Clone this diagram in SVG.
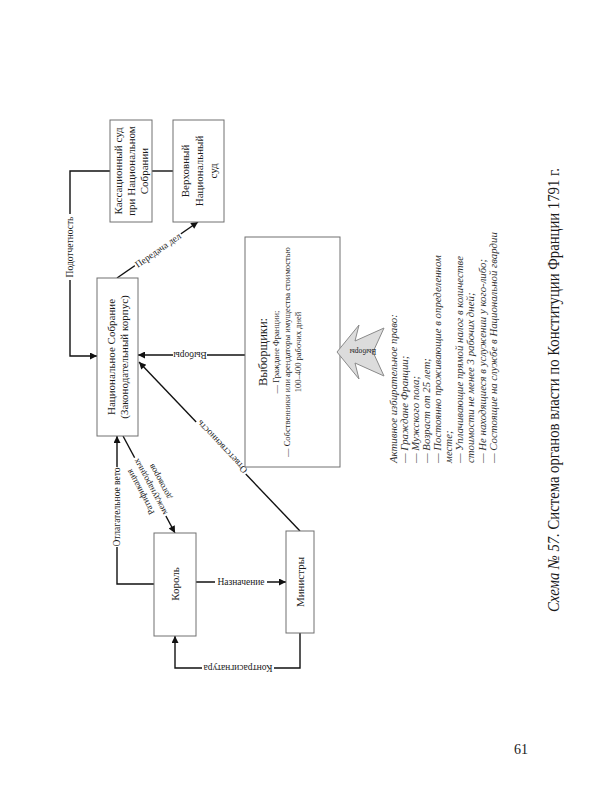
<svg xmlns="http://www.w3.org/2000/svg" width="600" height="800" viewBox="0 0 600 800">
<style>
.bg{fill:#fff}
.box{fill:#fff;stroke:#707070;stroke-width:1}
.t{font-family:"Liberation Serif","Times New Roman",serif;fill:#1a1a1a}
.c{fill:none;stroke:#111;stroke-width:1.4}
.lb{font-size:9.5px;text-anchor:middle}
.nt{font-size:11px;text-anchor:middle}
.it{font-size:10.8px;font-style:italic;fill:#333}
</style>
<defs>
<marker id="ah" viewBox="0 0 10 10" refX="10" refY="5" markerWidth="10" markerHeight="7" orient="auto" markerUnits="userSpaceOnUse">
<path d="M0,0 L10,5 L0,10 z" fill="#111"/>
</marker>
</defs>
<rect width="600" height="800" fill="#fff"/>

<g id="connectors">
<path class="c" d="M110,171 H70 V356 H97" marker-end="url(#ah)"/>
<path class="c" d="M152,171 H173"/>
<path class="c" d="M117,278 L198,222" marker-end="url(#ah)"/>
<path class="c" d="M245,355 H138" marker-end="url(#ah)"/>
<path class="c" d="M300,531 L139,362" marker-end="url(#ah)"/>
<path class="c" d="M123,436 L175,533" marker-end="url(#ah)"/>
<path class="c" d="M154,584 H117 V436" marker-end="url(#ah)"/>
<path class="c" d="M196,582 H286" marker-end="url(#ah)"/>
<path class="c" d="M300,633 V668 H175 V636" marker-end="url(#ah)"/>

<g transform="translate(70,247) rotate(-90)"><rect class="bg" x="-33" y="-5" width="66" height="10"/><text class="t lb" dy="0.35em">Подотчетность</text></g>
<g transform="translate(158,250) rotate(-34.7)"><rect class="bg" x="-28" y="-5" width="56" height="10"/><text class="t lb" dy="0.35em">Передача дел</text></g>
<g transform="translate(190,355) rotate(180)"><rect class="bg" x="-17" y="-5" width="34" height="10"/><text class="t lb" dy="0.35em">Выборы</text></g>
<g transform="translate(222,447) rotate(-133.4)"><rect class="bg" x="-36" y="-5" width="72" height="10"/><text class="t lb" dy="0.35em">Ответственность</text></g>
<g transform="translate(117,507) rotate(-90)"><rect class="bg" x="-40" y="-5" width="80" height="10"/><text class="t lb" dy="0.35em">Отлагательное вето</text></g>
<g transform="translate(241,582)"><rect class="bg" x="-26" y="-5" width="52" height="10"/><text class="t lb" dy="0.35em">Назначение</text></g>
<g transform="translate(238,668) rotate(180)"><rect class="bg" x="-36" y="-5" width="72" height="10"/><text class="t lb" dy="0.35em">Контрасигнатура</text></g>
<g transform="translate(150,487) rotate(-118)" font-size="9px"><rect class="bg" x="-33" y="-16" width="66" height="32"/>
<text class="t" text-anchor="middle" y="-11" dy="0.35em">Ратификация</text>
<text class="t" text-anchor="middle" y="0" dy="0.35em">международных</text>
<text class="t" text-anchor="middle" y="11" dy="0.35em">договоров</text></g>
</g>

<g id="kassation">
<rect class="box" x="110" y="120" width="42" height="102"/>
<g transform="translate(131,171) rotate(-90)">
<text class="t nt" y="-13" dy="0.35em">Кассационный суд</text>
<text class="t nt" y="0" dy="0.35em">при Национальном</text>
<text class="t nt" y="13" dy="0.35em">Собрании</text></g>
</g>

<g id="supreme">
<rect class="box" x="173" y="120" width="51" height="102"/>
<g transform="translate(199,171) rotate(-90)">
<text class="t nt" y="-14" dy="0.35em">Верховный</text>
<text class="t nt" y="0" dy="0.35em">Национальный</text>
<text class="t nt" y="14" dy="0.35em">суд</text></g>
</g>

<g id="assembly">
<rect class="box" x="97" y="278" width="41" height="158"/>
<g transform="translate(117.5,357) rotate(-90)">
<text class="t nt" y="-6.5" dy="0.35em">Национальное Собрание</text>
<text class="t nt" y="6.5" dy="0.35em">(Законодательный корпус)</text></g>
</g>

<g id="electors">
<rect class="box" x="245" y="237" width="95" height="230"/>
<g transform="translate(0,352)">
<text class="t" font-size="12.5" text-anchor="middle" transform="translate(263,0) rotate(-90)" dy="0.35em">Выборщики:</text>
<text class="t" font-size="8.5" text-anchor="middle" transform="translate(276,0) rotate(-90)" dy="0.35em">— Граждане Франции;</text>
<text class="t" font-size="8.5" text-anchor="middle" transform="translate(287,0) rotate(-90)" dy="0.35em">— Собственники или арендаторы имущества стоимостью</text>
<text class="t" font-size="8.5" text-anchor="middle" transform="translate(298,0) rotate(-90)" dy="0.35em">100–400 рабочих дней</text>
</g>
</g>

<g id="elections-arrow">
<polygon points="337,352 359,325 355,341 384,328 373,352 384,376 355,363 359,379" fill="#dcdcdc" stroke="#8a8a8a" stroke-width="1"/>
<text class="t" font-size="7.5" text-anchor="middle" transform="translate(363,352) rotate(180)" dy="0.35em" fill="#333">Выборы</text>
</g>

<g id="rights">
<g transform="translate(0,463)">
<text class="t it" transform="translate(393,0) rotate(-90)" dy="0.35em">Активное избирательное право:</text>
<text class="t it" transform="translate(404.1,0) rotate(-90)" dy="0.35em">— Граждане Франции;</text>
<text class="t it" transform="translate(415.2,0) rotate(-90)" dy="0.35em">— Мужского пола;</text>
<text class="t it" transform="translate(426.3,0) rotate(-90)" dy="0.35em">— Возраст от 25 лет;</text>
<text class="t it" transform="translate(437.4,0) rotate(-90)" dy="0.35em">— Постоянно проживающие в определенном</text>
<text class="t it" transform="translate(448.5,0) rotate(-90)" dy="0.35em">месте;</text>
<text class="t it" transform="translate(459.6,0) rotate(-90)" dy="0.35em">— Уплачивающие прямой налог в количестве</text>
<text class="t it" transform="translate(470.7,0) rotate(-90)" dy="0.35em">стоимости не менее 3 рабочих дней;</text>
<text class="t it" transform="translate(481.8,0) rotate(-90)" dy="0.35em">— Не находящиеся в услужении у кого-либо;</text>
<text class="t it" transform="translate(492.9,0) rotate(-90)" dy="0.35em">— Состоящие на службе в Национальной гвардии</text>
</g>
</g>

<g id="king">
<rect class="box" x="154" y="533" width="42" height="103"/>
<text class="t nt" transform="translate(175,584) rotate(-90)" dy="0.35em">Король</text>
</g>

<g id="ministers">
<rect class="box" x="286" y="531" width="28" height="102"/>
<text class="t nt" transform="translate(300,582) rotate(-90)" dy="0.35em">Министры</text>
</g>

<g id="caption">
<text class="t" font-size="16.5" text-anchor="middle" transform="translate(553,390) rotate(-90)" dy="0.35em" textLength="444" lengthAdjust="spacingAndGlyphs"><tspan font-style="italic">Схема № 57.</tspan> Система органов власти по Конституции Франции 1791 г.</text>
</g>

<g id="page-number">
<text class="t" font-size="14" text-anchor="middle" x="521" y="754">61</text>
</g>
</svg>
